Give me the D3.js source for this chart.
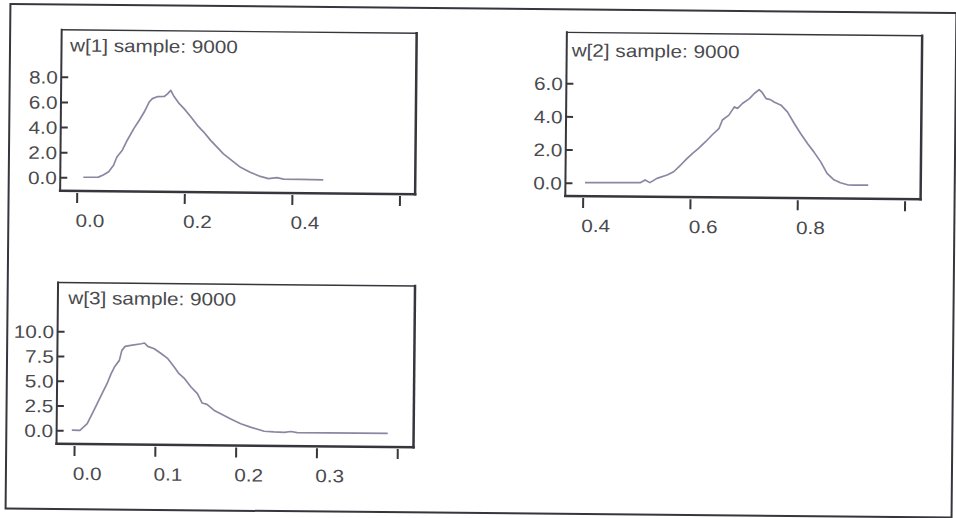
<!doctype html>
<html>
<head>
<meta charset="utf-8">
<title>w sample densities</title>
<script src="https://d3js.org/d3.v7.min.js"></script>
<style>
  body { margin: 0; background: #fff; }
  svg { display: block; }
  text { font-family: "Liberation Sans", Arial, sans-serif; font-size: 18px; fill: #4a4a4e; }
  .frame { stroke: #36363c; fill: none; }
  .tick line { stroke: #36363c; stroke-width: 2; }
  .density { fill: none; stroke: #8a87a2; stroke-width: 1.7; stroke-linejoin: round; }
</style>
</head>
<body>
<script>

// kernel density of each weight (9000 samples each)
var w1X    = [0.012, 0.040, 0.049, 0.059, 0.068, 0.074, 0.084, 0.093, 0.105, 0.115, 0.124, 0.133, 0.139, 0.149, 0.161, 0.167, 0.173, 0.178, 0.189, 0.198, 0.211, 0.223, 0.235, 0.248, 0.260, 0.272, 0.288, 0.304, 0.322, 0.341, 0.356, 0.372, 0.384, 0.415, 0.458];
var w1Dens = [0.02, 0.04, 0.21, 0.47, 1.00, 1.66, 2.20, 3.00, 3.93, 4.60, 5.26, 6.06, 6.33, 6.50, 6.51, 6.72, 7.00, 6.60, 5.95, 5.56, 4.90, 4.24, 3.71, 3.05, 2.52, 1.99, 1.46, 0.93, 0.55, 0.22, 0.05, 0.14, 0.02, 0.02, 0.00];

var w2X    = [0.404, 0.507, 0.516, 0.525, 0.538, 0.557, 0.569, 0.582, 0.594, 0.604, 0.615, 0.628, 0.640, 0.653, 0.659, 0.671, 0.681, 0.687, 0.696, 0.709, 0.718, 0.727, 0.732, 0.740, 0.748, 0.755, 0.768, 0.780, 0.793, 0.805, 0.818, 0.830, 0.843, 0.855, 0.867, 0.880, 0.895, 0.904, 0.932];
var w2Dens = [0.01, 0.04, 0.21, 0.05, 0.31, 0.52, 0.72, 1.13, 1.54, 1.84, 2.15, 2.55, 2.96, 3.37, 3.87, 4.17, 4.67, 4.58, 4.88, 5.18, 5.49, 5.73, 5.58, 5.19, 5.13, 4.99, 4.80, 4.40, 3.70, 3.10, 2.50, 2.00, 1.40, 0.71, 0.35, 0.15, 0.02, 0.02, 0.02];

var w3X    = [-0.003, 0.007, 0.016, 0.026, 0.034, 0.040, 0.045, 0.049, 0.055, 0.058, 0.062, 0.069, 0.082, 0.086, 0.090, 0.098, 0.107, 0.115, 0.123, 0.129, 0.136, 0.144, 0.152, 0.158, 0.164, 0.173, 0.181, 0.193, 0.206, 0.218, 0.235, 0.247, 0.260, 0.268, 0.276, 0.388];
var w3Dens = [0.02, 0.02, 0.69, 2.38, 3.74, 4.75, 5.77, 6.44, 7.12, 8.13, 8.54, 8.65, 8.82, 8.90, 8.56, 8.33, 7.83, 7.34, 6.50, 5.83, 5.33, 4.50, 3.83, 2.89, 2.76, 2.16, 1.83, 1.33, 0.84, 0.51, 0.10, 0.04, 0.00, 0.10, 0.00, 0.00];

// axis ticks (the last x tick carries no label)
var w1XTicks = [0.0, 0.2, 0.4, 0.6], w1YTicks = [0, 2, 4, 6, 8];
var w2XTicks = [0.4, 0.6, 0.8, 1.0], w2YTicks = [0, 2, 4, 6];
var w3XTicks = [0.0, 0.1, 0.2, 0.3, 0.4], w3YTicks = [0, 2.5, 5, 7.5, 10];

var titles = ["w[1] sample: 9000", "w[2] sample: 9000", "w[3] sample: 9000"];

var width = 956, height = 518;
var stretch = 1.15;   // wide lettering
var fmt = d3.format(".1f");

var svg = d3.select("body").append("svg")
    .attr("width", width)
    .attr("height", height);

// whole sheet sits a touch askew
var page = svg.append("g").attr("transform", "rotate(0.55,478,259)");

page.append("rect")
    .attr("class", "frame")
    .attr("x", 8).attr("y", 8.5)
    .attr("width", 946).attr("height", 504.5)
    .attr("stroke-width", 2);

var panels = [
  { title: titles[0], xs: w1X, ys: w1Dens, xTicks: w1XTicks, yTicks: w1YTicks,
    box: { left: 59.5, top: 33.8, right: 414.5, bottom: 194.8 },
    xDomain: [0, 0.6], xRange: [76.1, 398.9],
    yDomain: [0, 8], yRange: [181.3, 80.8],
    titleX: 68, titleY: 55.5 },
  { title: titles[1], xs: w2X, ys: w2Dens, xTicks: w2XTicks, yTicks: w2YTicks,
    box: { left: 564.7, top: 31.5, right: 920, bottom: 195.1 },
    xDomain: [0.4, 1.0], xRange: [582.1, 904],
    yDomain: [0, 6], yRange: [181.8, 82.4],
    titleX: 569.7, titleY: 55.6 },
  { title: titles[2], xs: w3X, ys: w3Dens, xTicks: w3XTicks, yTicks: w3YTicks,
    box: { left: 58.3, top: 286.6, right: 415.3, bottom: 447.8 },
    xDomain: [0, 0.4], xRange: [75.9, 399.1],
    yDomain: [0, 10], yRange: [434.3, 335.3],
    titleX: 68.7, titleY: 308 }
];

panels.forEach(function(p) {
  var g = page.append("g");
  var b = p.box;

  var x = d3.scaleLinear().domain(p.xDomain).range(p.xRange);
  var y = d3.scaleLinear().domain(p.yDomain).range(p.yRange);

  // plot box, heavier on the right and bottom
  var sides = [
    [b.left, b.top, b.right, b.top, 1.4],
    [b.left, b.top, b.left, b.bottom, 2],
    [b.right, b.top, b.right, b.bottom, 2.5],
    [b.left, b.bottom, b.right, b.bottom, 2.5]
  ];
  g.selectAll("line.side")
    .data(sides)
    .enter().append("line")
      .attr("class", "frame side")
      .attr("x1", function(d) { return d[0]; })
      .attr("y1", function(d) { return d[1]; })
      .attr("x2", function(d) { return d[2]; })
      .attr("y2", function(d) { return d[3]; })
      .attr("stroke-width", function(d) { return d[4]; })
      .attr("stroke-linecap", "square");

  // y axis, ticks point inward
  var gy = g.append("g")
      .attr("transform", "translate(" + b.left + ",0)")
      .call(d3.axisLeft(y).tickValues(p.yTicks).tickSize(-7).tickFormat(fmt));
  gy.select(".domain").remove();
  gy.selectAll("text")
      .attr("x", null).attr("dy", null).attr("fill", null)
      .style("text-anchor", "end")
      .attr("transform", "translate(-3.5,6.4) scale(" + stretch + ",1)");

  // x axis hangs under the box
  var last = p.xTicks.length - 1;
  var gx = g.append("g")
      .attr("transform", "translate(0," + (b.bottom + 2) + ")")
      .call(d3.axisBottom(x).tickValues(p.xTicks).tickSize(10)
        .tickFormat(function(d, i) { return i < last ? fmt(d) : ""; }));
  gx.select(".domain").remove();
  gx.selectAll("text")
      .attr("y", null).attr("dy", null).attr("fill", null)
      .style("text-anchor", "start")
      .attr("transform", "translate(-1.5,33.8) scale(" + stretch + ",1)");

  g.append("text")
      .attr("transform", "translate(" + p.titleX + "," + p.titleY + ") scale(" + stretch + ",1)")
      .text(p.title);

  var line = d3.line()
      .x(function(d) { return x(d[0]); })
      .y(function(d) { return y(d[1]); });

  g.append("path")
      .datum(d3.zip(p.xs, p.ys))
      .attr("class", "density")
      .attr("d", line);
});

</script>
</body>
</html>
